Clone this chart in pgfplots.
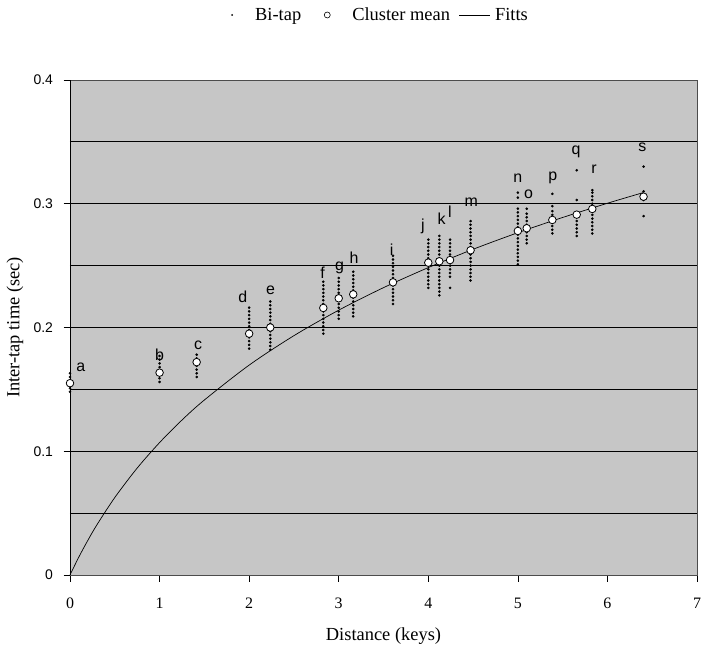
\documentclass[border=0pt]{standalone}
\usepackage{fontspec}
\setmainfont{Liberation Serif}
\newfontfamily\arial{Liberation Sans}
\usepackage{pgfplots}
\pgfplotsset{compat=1.18}
\usepackage{pgfplotstable}

% bi-tap samples, one column of dots per key distance
\pgfplotstableread{
x y
0 0.148
0 0.151
0 0.154
0 0.157
0 0.160
0 0.163
1 0.156
1 0.159
1 0.162
1 0.165
1 0.168
1 0.171
1 0.174
1 0.177
1.414 0.160
1.414 0.163
1.414 0.166
1.414 0.169
1.414 0.172
1.414 0.175
1.414 0.178
2 0.183
2 0.186
2 0.189
2 0.192
2 0.195
2 0.198
2 0.201
2 0.204
2 0.207
2 0.210
2 0.213
2 0.216
2.236 0.182
2.236 0.185
2.236 0.188
2.236 0.191
2.236 0.194
2.236 0.197
2.236 0.200
2.236 0.203
2.236 0.206
2.236 0.209
2.236 0.212
2.236 0.215
2.236 0.218
2.236 0.221
2.828 0.195
2.828 0.198
2.828 0.201
2.828 0.204
2.828 0.207
2.828 0.210
2.828 0.213
2.828 0.216
2.828 0.219
2.828 0.222
2.828 0.225
2.828 0.228
2.828 0.231
2.828 0.234
2.828 0.237
3 0.207
3 0.210
3 0.213
3 0.216
3 0.219
3 0.222
3 0.225
3 0.228
3 0.231
3 0.234
3 0.237
3 0.240
3.162 0.209
3.162 0.212
3.162 0.215
3.162 0.218
3.162 0.221
3.162 0.224
3.162 0.227
3.162 0.230
3.162 0.233
3.162 0.236
3.162 0.239
3.162 0.242
3.162 0.245
3.606 0.219
3.606 0.222
3.606 0.225
3.606 0.228
3.606 0.231
3.606 0.234
3.606 0.237
3.606 0.240
3.606 0.243
3.606 0.246
3.606 0.249
3.606 0.252
3.606 0.255
3.606 0.258
4 0.232
4 0.235
4 0.238
4 0.241
4 0.244
4 0.247
4 0.250
4 0.253
4 0.256
4 0.259
4 0.262
4 0.265
4 0.268
4 0.271
4.123 0.226
4.123 0.229
4.123 0.232
4.123 0.235
4.123 0.238
4.123 0.241
4.123 0.244
4.123 0.247
4.123 0.250
4.123 0.253
4.123 0.256
4.123 0.259
4.123 0.262
4.123 0.265
4.123 0.268
4.123 0.271
4.123 0.274
4.243 0.232
4.243 0.241
4.243 0.244
4.243 0.247
4.243 0.250
4.243 0.253
4.243 0.256
4.243 0.259
4.243 0.262
4.243 0.265
4.243 0.268
4.243 0.271
4.472 0.238
4.472 0.241
4.472 0.244
4.472 0.247
4.472 0.250
4.472 0.253
4.472 0.256
4.472 0.259
4.472 0.262
4.472 0.265
4.472 0.268
4.472 0.271
4.472 0.274
4.472 0.277
4.472 0.280
4.472 0.283
4.472 0.286
5 0.251
5 0.254
5 0.257
5 0.260
5 0.263
5 0.266
5 0.269
5 0.272
5 0.275
5 0.278
5 0.281
5 0.284
5 0.287
5 0.290
5 0.293
5 0.296
5 0.305
5 0.309
5.099 0.268
5.099 0.271
5.099 0.274
5.099 0.277
5.099 0.280
5.099 0.283
5.099 0.286
5.099 0.289
5.099 0.292
5.099 0.296
5.385 0.276
5.385 0.279
5.385 0.282
5.385 0.285
5.385 0.288
5.385 0.291
5.385 0.294
5.385 0.298
5.385 0.308
5.657 0.274
5.657 0.277
5.657 0.280
5.657 0.283
5.657 0.286
5.657 0.289
5.657 0.292
5.657 0.303
5.657 0.327
5.831 0.276
5.831 0.279
5.831 0.282
5.831 0.285
5.831 0.288
5.831 0.291
5.831 0.294
5.831 0.297
5.831 0.300
5.831 0.303
5.831 0.306
5.831 0.309
5.831 0.311
6.403 0.290
6.403 0.303
6.403 0.307
6.403 0.310
6.403 0.330
}\bitap

% cluster means
\pgfplotstableread{
x y
0 0.155
1 0.1635
1.414 0.172
2 0.195
2.236 0.200
2.828 0.2158
3 0.2236
3.162 0.2268
3.606 0.2365
4 0.2524
4.123 0.2535
4.243 0.2545
4.472 0.2624
5 0.278
5.099 0.2802
5.385 0.2869
5.657 0.2912
5.831 0.2958
6.403 0.3057
}\means

% letter tags above the clusters
\pgfplotstableread{
x y label
0.12 0.1675 a
1.0 0.178 b
1.43 0.186 c
1.93 0.2244 d
2.24 0.2303 e
2.82 0.2443 f
3.01 0.2478 g
3.17 0.2567 h
3.59 0.2626 i
3.94 0.2815 j
4.15 0.2882 k
4.24 0.2936 l
4.48 0.3009 m
5.0 0.3206 n
5.12 0.3079 o
5.39 0.3206 p
5.65 0.342 q
5.85 0.328 r
6.39 0.346 s
}\tags

\begin{document}
\begin{tikzpicture}
\begin{axis}[
  scale only axis,
  width=627bp, height=495bp,
  xmin=0, xmax=7, ymin=0, ymax=0.4,
  xtick={0,1,2,3,4,5,6,7},
  xticklabels={0,1,2,3,4,5,6,7},
  ytick={0,0.1,0.2,0.3,0.4},
  yticklabels={0,0.1,0.2,0.3,0.4},
  /pgf/number format/assume math mode=true,
  tick pos=left, tick align=outside,
  major tick length=6.5bp,
  tick style={black, line width=0.6pt},
  axis line style={gray!60!black, line width=0.5pt},
  axis background/.style={fill=gray!45},
  xticklabel style={font=\fontsize{16}{16}\selectfont, yshift=-13bp},
  yticklabel style={font=\arial\fontsize{14}{14}\selectfont, xshift=-7bp},
  xlabel={Distance (keys)},
  ylabel={Inter-tap time (sec)},
  label style={font=\fontsize{18.5}{20}\selectfont},
  xlabel style={at={(axis description cs:0.5,-0.1232)}, anchor=center},
  ylabel style={at={(axis description cs:-0.0877,0.5)}, anchor=center},
  legend columns=3,
  legend style={at={(0.5,1)}, anchor=center, xshift=-14.5bp, yshift=65bp,
    draw=none, fill=none, font=\fontsize{18.5}{20}\selectfont,
    inner sep=0pt, column sep=0pt,
    nodes={inner xsep=0pt, inner ysep=2pt}},
]
\addlegendimage{legend image code/.code={
  \path[draw=none] (0,0) -- (45bp,0);
  \fill[black, draw=none] (22bp,0) circle (1bp);}}
\addlegendentry{Bi-tap}
\addlegendimage{legend image code/.code={
  \path[draw=none] (0,0) -- (51bp,0);
  \draw[black, fill=white, line width=0.6pt] (26bp,0) circle (3bp);}}
\addlegendentry{Cluster mean}
\addlegendimage{legend image code/.code={
  \path[draw=none] (0,0) -- (45bp,0);
  \draw[black, line width=0.7pt] (9bp,0) -- (40bp,0);}}
\addlegendentry{Fitts}

\pgfplotsinvokeforeach{0.05,0.1,0.15,0.2,0.25,0.3,0.35}{
  \draw[black, line width=0.8pt] (axis cs:0,#1) -- (axis cs:7,#1);
}
\draw[black, line width=0.8pt] (axis cs:0,0) -- (axis cs:0,0.4);

\addplot[forget plot, only marks, mark=*, mark size=1.1pt, black] table {\bitap};

\addplot[forget plot, black, line width=0.7pt, smooth] coordinates {
  (0,0) (0.1,0.0147) (0.2,0.0281) (0.3,0.0405) (0.5,0.0626) (0.75,0.0864)
  (1,0.107) (1.25,0.1252) (1.5,0.1414) (2,0.1696) (2.5,0.1934) (3,0.214)
  (3.5,0.2322) (4,0.2484) (4.5,0.2632) (5,0.2766) (5.5,0.2889) (6,0.3004)
  (6.4,0.309)
};

\addplot[forget plot, only marks, mark=*, mark size=3.8pt,
  mark options={fill=white, draw=black, line width=0.8pt}] table {\means};

\addplot[forget plot, only marks, mark=none,
  point meta=explicit symbolic, nodes near coords,
  nodes near coords style={anchor=center, inner sep=0pt,
    font=\arial\fontsize{16}{16}\selectfont}]
  table[meta=label] {\tags};

\coordinate (bl) at (rel axis cs:0,0);
\coordinate (tr) at (rel axis cs:1,1);
\end{axis}
\pgfresetboundingbox
\path[use as bounding box] ([xshift=-70bp,yshift=-74bp]bl) rectangle ([xshift=10bp,yshift=80bp]tr);
\end{tikzpicture}
\end{document}
